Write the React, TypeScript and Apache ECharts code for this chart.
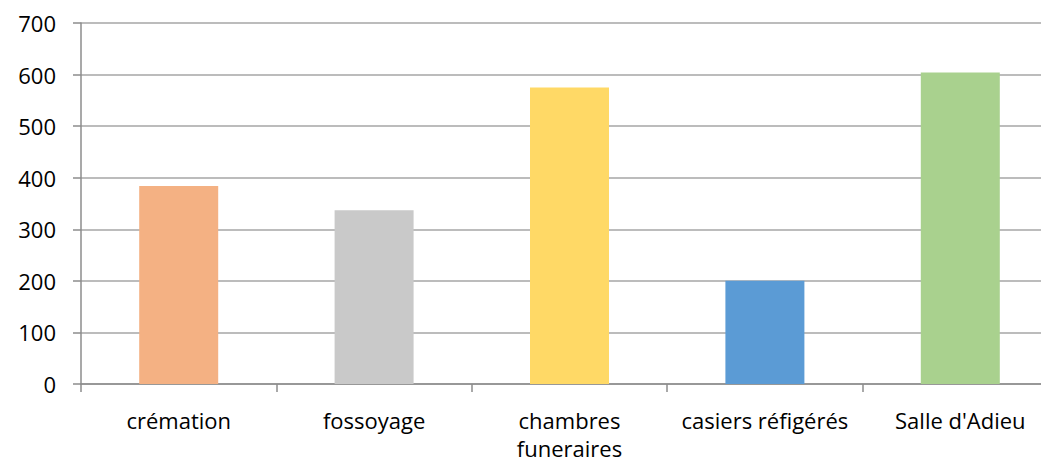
import React, { useEffect, useRef } from "react";
import * as echarts from "echarts";

const categories = ["crémation", "fossoyage", "chambres funeraires", "casiers réfigérés", "Salle d'Adieu"];
const values = [384, 337, 575, 200, 604];
const barColors = ["#F4B183", "#C9C9C9", "#FFD966", "#5B9BD5", "#A9D18E"];
const yTicks = { min: 0, max: 700, interval: 100 };

const FONT = "'Open Sans', 'Noto Sans', sans-serif";

// long category names go on two lines
const wrapLabel = (name: string) => (name.length > 18 ? name.replace(" ", "\n") : name);

export default function App() {
  const ref = useRef<HTMLDivElement>(null);

  useEffect(() => {
    if (!ref.current) return;
    const chart = echarts.init(ref.current, undefined, { renderer: "svg" });
    chart.setOption({
      animation: false,
      backgroundColor: "#ffffff",
      grid: { left: 81, top: 23, width: 977, height: 362, containLabel: false },
      xAxis: {
        type: "category",
        data: categories,
        boundaryGap: true,
        axisLine: { show: true, lineStyle: { color: "#8c8c8c", width: 1.5 } },
        axisTick: { show: true, length: 8, alignWithLabel: false, lineStyle: { color: "#8c8c8c", width: 1.5 } },
        axisLabel: {
          interval: 0,
          margin: 22,
          color: "#000000",
          fontFamily: FONT,
          fontSize: 22,
          lineHeight: 28,
          formatter: wrapLabel,
        },
      },
      yAxis: {
        type: "value",
        min: yTicks.min,
        max: yTicks.max,
        interval: yTicks.interval,
        axisLine: { show: true, lineStyle: { color: "#8c8c8c", width: 1.5 } },
        axisTick: { show: true, length: 8, lineStyle: { color: "#8c8c8c", width: 1.5 } },
        splitLine: { show: true, lineStyle: { color: "#a6a6a6", width: 1.5 } },
        axisLabel: {
          margin: 25,
          color: "#000000",
          fontFamily: FONT,
          fontSize: 22,
        },
      },
      series: [
        {
          type: "bar",
          barWidth: 79,
          data: values.map((v, i) => ({ value: v, itemStyle: { color: barColors[i] } })),
        },
      ],
    });
    return () => chart.dispose();
  }, []);

  return (
    <div
      ref={ref}
      style={{ position: "fixed", left: 0, top: 0, width: 1060, height: 462, background: "#ffffff" }}
    />
  );
}
